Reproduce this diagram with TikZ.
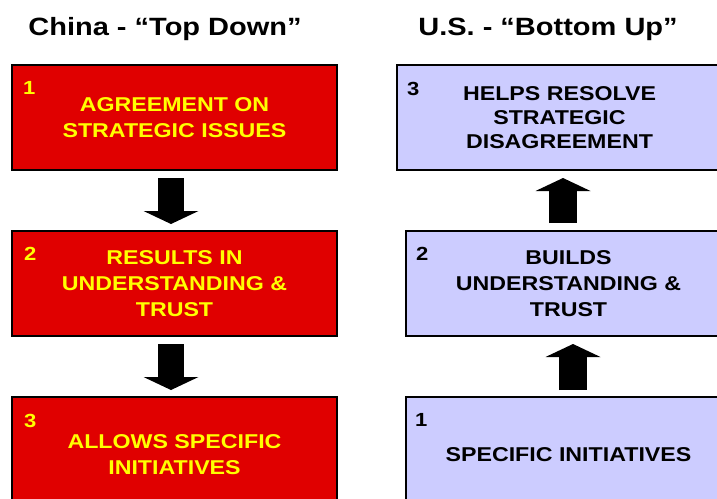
\documentclass[tikz,border=0pt]{standalone}
\usepackage{fontspec}
\setmainfont{Liberation Sans}[FakeStretch=1.16]
\usepackage{tikz}
\usetikzlibrary{arrows.meta}
\definecolor{chinared}{RGB}{224,0,0}
\definecolor{usblue}{RGB}{204,204,255}
\definecolor{tagyellow}{RGB}{255,255,0}
\tikzstyle{stage box}=[draw=black,line width=1.5pt,outer sep=0pt,inner sep=0pt,
                       minimum width=325pt,minimum height=105pt,align=center,
                       font=\bfseries\fontsize{20}{26}\selectfont]
\tikzstyle{china box}=[stage box,fill=chinared,text=tagyellow]
\tikzstyle{us box}=[stage box,fill=usblue,text=black]
\tikzstyle{num tag}=[inner sep=0pt,anchor=base west,font=\bfseries\fontsize{19}{19}\selectfont]
\tikzstyle{block arrow}=[draw=black,line width=26pt,
                         -{Triangle[length=13pt,width=55pt,line width=0pt]}]
\tikzstyle{side title}=[anchor=base,font=\bfseries\fontsize{25}{25}\selectfont]

\begin{document}
\begin{tikzpicture}[x=1pt,y=-1pt]
            \useasboundingbox (0,0) rectangle (717,498);
            \clip (0,0) rectangle (717,498);

            \def\xl{174.5} % centre of china column
            \def\xr{559.5} % centre of top us box
            \def\xrr{568.5} % centre of lower us boxes

            % TITLES
            \node[side title] (chinatitle) at (165,35) {China - “Top Down”};
            \node[side title] (ustitle) at (548,35) {U.S. - “Bottom Up”};

            % CHINA
            \node[china box] (c1) at (\xl,117.5) {AGREEMENT ON\\STRATEGIC ISSUES};
            \node[china box] (c2) at (\xl,283.5) {RESULTS IN\\UNDERSTANDING \&\\TRUST};
            \node[china box,minimum height=115pt] (c3) at (\xl,454.5) {ALLOWS SPECIFIC\\INITIATIVES};
            \node[num tag,text=tagyellow] (c1n) at ([xshift=11pt,yshift=-29pt]c1.north west) {1};
            \node[num tag,text=tagyellow] (c2n) at ([xshift=12pt,yshift=-29pt]c2.north west) {2};
            \node[num tag,text=tagyellow] (c3n) at ([xshift=12pt,yshift=-30pt]c3.north west) {3};

            % US
            \node[us box,font=\bfseries\fontsize{20}{24}\selectfont] (u3) at (\xr,117.5) {HELPS RESOLVE\\STRATEGIC\\DISAGREEMENT};
            \node[us box] (u2) at (\xrr,283.5) {BUILDS\\UNDERSTANDING \&\\TRUST};
            \node[us box,minimum height=115pt] (u1) at (\xrr,454.5) {SPECIFIC INITIATIVES};
            \node[num tag] (u3n) at ([xshift=10pt,yshift=-30pt]u3.north west) {3};
            \node[num tag] (u2n) at ([xshift=10pt,yshift=-29pt]u2.north west) {2};
            \node[num tag] (u1n) at ([xshift=9pt,yshift=-29pt]u1.north west) {1};

            % ARROWS
            \draw[block arrow] ([xshift=-3.5pt,yshift=-8pt]c1.south) -- ([xshift=-3.5pt,yshift=7pt]c2.north);
            \draw[block arrow] ([xshift=-3.5pt,yshift=-8pt]c2.south) -- ([xshift=-3.5pt,yshift=7pt]c3.north);
            \draw[block arrow,line width=28pt] ([xshift=-5.5pt,yshift=8pt]u2.north) -- ([xshift=3.5pt,yshift=-8pt]u3.south);
            \draw[block arrow,line width=28pt] ([xshift=4.5pt,yshift=7pt]u1.north) -- ([xshift=4.5pt,yshift=-8pt]u2.south);

\end{tikzpicture}
\end{document}
